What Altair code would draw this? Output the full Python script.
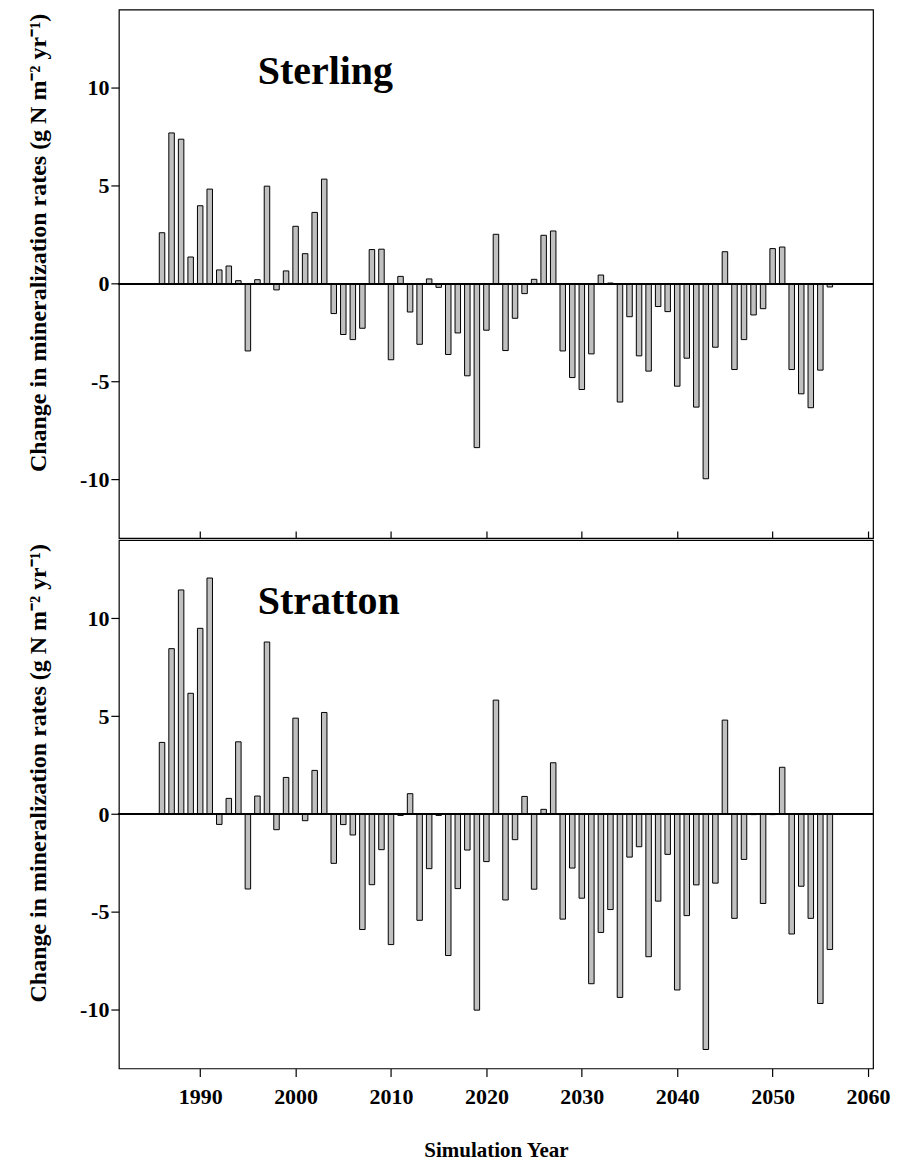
import altair as alt
import pandas as pd

years = list(range(1986, 2057))

sterling = [2.60, 7.70, 7.38, 1.36, 3.98, 4.83, 0.70, 0.90, 0.15, -3.44,
            0.20, 4.98, -0.32, 0.65, 2.93, 1.53, 3.64, 5.34, -1.53, -2.60,
            -2.86, -2.28, 1.74, 1.76, -3.89, 0.37, -1.45, -3.10, 0.24, -0.19,
            -3.62, -2.52, -4.71, -8.38, -2.38, 2.52, -3.42, -1.77, -0.51, 0.22,
            2.47, 2.69, -3.44, -4.80, -5.41, -3.59, 0.44, 0.03, -6.05, -1.69,
            -3.69, -4.47, -1.17, -1.43, -5.24, -3.81, -6.31, -9.97, -3.25, 1.63,
            -4.39, -2.86, -1.60, -1.28, 1.79, 1.87, -4.39, -5.63, -6.34, -4.42,
            -0.17]

stratton = [3.66, 8.45, 11.45, 6.17, 9.49, 12.06, -0.53, 0.80, 3.69, -3.83,
            0.92, 8.79, -0.80, 1.87, 4.90, -0.34, 2.23, 5.19, -2.52, -0.54,
            -1.07, -5.90, -3.61, -1.82, -6.67, -0.07, 1.04, -5.43, -2.79, -0.07,
            -7.23, -3.81, -1.84, -10.02, -2.43, 5.82, -4.39, -1.31, 0.90, -3.84,
            0.24, 2.62, -5.37, -2.76, -4.30, -8.67, -6.05, -4.88, -9.37, -2.20,
            -1.67, -7.29, -4.45, -2.06, -8.99, -5.19, -3.62, -12.03, -3.53, 4.80,
            -5.33, -2.32, -0.03, -4.57, -0.03, 2.39, -6.13, -3.69, -5.33, -9.68,
            -6.92]

x_ticks = [1990, 2000, 2010, 2020, 2030, 2040, 2050, 2060]
y_ticks = [-10, -5, 0, 5, 10]
x_domain = [1982, 2060]
y_domain = [-13, 14]

FONT = "Liberation Serif"
W, H = 755, 529
YTITLE = "Change in mineralization rates (g N m\u207b\u00b2 yr\u207b\u00b9)"


def panel(values, name, bottom):
    df = pd.DataFrame({"year": years, "value": values})
    if bottom:
        xaxis = alt.Axis(values=x_ticks, title="Simulation Year", format="d",
                         tickSize=8, labelPadding=10, titlePadding=32,
                         labelFontSize=22, titleFontSize=21,
                         domain=False, grid=False)
    else:
        xaxis = alt.Axis(values=x_ticks, title=None, labels=False,
                         tickSize=7, offset=-7, domain=False, grid=False)
    yaxis = alt.Axis(values=y_ticks, title=YTITLE, tickSize=8, labelPadding=2,
                     labelFontSize=22, titleFontSize=24,
                     titleX=-80, titleY=233, titleAngle=270,
                     titleBaseline="middle", titleAlign="center",
                     labelExpr="'' + datum.value",
                     domain=False, grid=False)
    bars = alt.Chart(df).mark_bar(size=5.5, color="#c0c0c0", stroke="black",
                                  strokeWidth=1).encode(
        x=alt.X("year:Q", scale=alt.Scale(domain=x_domain, nice=False, zero=False),
                axis=xaxis),
        y=alt.Y("value:Q", scale=alt.Scale(domain=y_domain, nice=False),
                axis=yaxis),
    )
    zero = alt.Chart(df).mark_rule(color="black", strokeWidth=1.3).encode(
        y=alt.datum(0)
    )
    label = alt.Chart(pd.DataFrame({"t": [name]})).mark_text(
        font=FONT, fontSize=40, fontWeight="bold", align="left",
        baseline="alphabetic", color="black"
    ).encode(x=alt.value(139), y=alt.value(74), text="t:N")
    return alt.layer(bars, zero, label).properties(width=W, height=H)


chart = alt.vconcat(
    panel(sterling, "Sterling", False),
    panel(stratton, "Stratton", True),
    spacing=-3,
).properties(
    padding={"left": 26, "top": 8, "right": 10, "bottom": 5}
).configure_view(
    stroke="black", strokeWidth=1.2
).configure_axis(
    labelFont=FONT, titleFont=FONT,
    labelFontWeight="bold", titleFontWeight="bold", labelColor="black",
    titleColor="black", tickColor="black", tickWidth=1.2
)

chart.save("out.html", embed_options={"renderer": "svg", "actions": False})
